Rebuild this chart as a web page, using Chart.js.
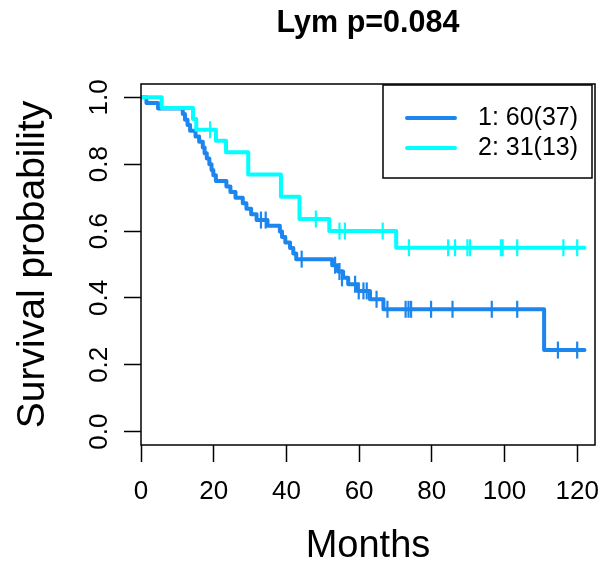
<!DOCTYPE html>
<html>
<head>
<meta charset="utf-8">
<script src="https://cdn.jsdelivr.net/npm/chart.js@4.4.1/dist/chart.umd.min.js"></script>
<style>
  html, body { margin: 0; padding: 0; background: #fff; }
  #wrap { width: 609px; height: 567px; }
</style>
</head>
<body>
<div id="wrap"><canvas id="kmChart" width="609" height="567"></canvas></div>
<script>
// Kaplan-Meier steps (month of each drop, survival after it)
const group1Times = [0, 1.5, 4.7, 11.5, 12.1, 12.8, 13.5, 15.0, 16.0, 17.0, 17.5, 18.1, 18.8, 19.4, 19.9, 20.6,
    23.5, 24.6, 26.0, 28.0, 29.0, 30.3, 31.8, 34.8, 38.2, 38.8, 39.7, 41.0, 41.9, 42.7,
    52.6, 54.2, 55.6, 57.0, 59.6, 63.0, 66.7, 110.9, 122];
const group1Surv = [1.0, 0.983, 0.967, 0.950, 0.933, 0.917, 0.900, 0.883, 0.867, 0.850, 0.833, 0.817, 0.800, 0.783, 0.767, 0.750,
    0.733, 0.717, 0.700, 0.683, 0.667, 0.650, 0.633, 0.616, 0.599, 0.582, 0.566, 0.549, 0.533, 0.516,
    0.498, 0.479, 0.460, 0.441, 0.421, 0.396, 0.366, 0.244, 0.244];
const group1CensorTimes = [33.0, 34.3, 44.2, 53.4, 54.6, 55.3, 58.9, 59.9, 61.2, 62.1, 64.8,
    67.8, 72.8, 73.6, 74.3, 79.8, 85.7, 96.5, 103.5, 114.7, 120.0];
const group1CensorSurv = [0.633, 0.633, 0.516, 0.498, 0.479, 0.460, 0.441, 0.421, 0.421, 0.421, 0.396,
    0.366, 0.366, 0.366, 0.366, 0.366, 0.366, 0.366, 0.366, 0.244, 0.244];

const group2Times = [0, 5.7, 14.3, 15.2, 20.6, 23.4, 29.5, 38.5, 43.6, 51.8, 70.2, 122];
const group2Surv = [1.0, 0.968, 0.935, 0.903, 0.870, 0.836, 0.769, 0.703, 0.636, 0.600, 0.550, 0.550];
const group2CensorTimes = [19.0, 48.1, 54.6, 56.1, 66.5, 73.7, 84.5, 86.4, 89.8, 90.5, 99.0, 99.5, 103.5, 116.2, 120.0];
const group2CensorSurv = [0.903, 0.636, 0.600, 0.600, 0.600, 0.550, 0.550, 0.550, 0.550, 0.550, 0.550, 0.550, 0.550, 0.550, 0.550];

const seriesLabels = ['1: 60(37)', '2: 31(13)'];
const seriesColors = ['#1C86EE', '#00FFFF'];
const xTicks = [0, 20, 40, 60, 80, 100, 120];
const yTicks = [0, 0.2, 0.4, 0.6, 0.8, 1.0];
const yTickLabels = ['0.0', '0.2', '0.4', '0.6', '0.8', '1.0'];

const FONT = '"Liberation Sans", Arial, Helvetica, sans-serif';

const toPoints = (xs, ys) => xs.map((x, i) => ({ x: x, y: ys[i] }));

function stepSet(times, surv, color, order) {
    return {
        type: 'line',
        data: toPoints(times, surv),
        borderColor: color,
        borderWidth: 4,
        stepped: true,
        pointRadius: 0,
        fill: false,
        borderCapStyle: 'round',
        borderJoinStyle: 'round',
        order: order
    };
}

function censorSet(times, surv, color, order) {
    return {
        type: 'scatter',
        data: toPoints(times, surv),
        borderColor: color,
        backgroundColor: color,
        borderWidth: 2.2,
        pointStyle: 'line',
        rotation: 90,
        pointRadius: 8.5,
        pointHoverRadius: 8.5,
        showLine: false,
        order: order
    };
}

// R style box round the plot region
const plotBox = {
    id: 'plotBox',
    afterDraw(chart) {
        const { ctx, chartArea: a } = chart;
        ctx.save();
        ctx.strokeStyle = '#000';
        ctx.lineWidth = 1.5;
        ctx.strokeRect(a.left, a.top, a.right - a.left, a.bottom - a.top);
        ctx.restore();
    }
};

// legend box in the top right corner
const legendBox = {
    id: 'legendBox',
    afterDraw(chart) {
        const { ctx, chartArea } = chart;
        const w = 209, h = 93;
        const left = chartArea.right - 3 - w, top = chartArea.top + 1;
        ctx.save();
        ctx.strokeStyle = '#000';
        ctx.lineWidth = 1.5;
        ctx.strokeRect(left, top, w, h);
        ctx.font = '25px ' + FONT;
        ctx.textBaseline = 'middle';
        seriesLabels.forEach((lab, i) => {
            const y = top + 33 + i * 30;
            ctx.strokeStyle = seriesColors[i];
            ctx.lineWidth = 4;
            ctx.lineCap = 'round';
            ctx.beginPath();
            ctx.moveTo(left + 24, y);
            ctx.lineTo(left + 72, y);
            ctx.stroke();
            ctx.fillStyle = '#000';
            ctx.fillText(lab, left + 95, y);
        });
        ctx.restore();
    }
};

const ctx = document.getElementById('kmChart').getContext('2d');
new Chart(ctx, {
    data: {
        datasets: [
            stepSet(group1Times, group1Surv, seriesColors[0], 3),
            stepSet(group2Times, group2Surv, seriesColors[1], 2),
            censorSet(group1CensorTimes, group1CensorSurv, seriesColors[0], 1),
            censorSet(group2CensorTimes, group2CensorSurv, seriesColors[1], 0)
        ]
    },
    options: {
        responsive: false,
        animation: false,
        events: [],
        layout: { padding: { left: 0, right: 14, top: 0, bottom: 0 } },
        plugins: {
            legend: { display: false },
            tooltip: { enabled: false },
            title: {
                display: true,
                text: 'Lym p=0.084',
                fullSize: false,
                color: '#000',
                font: { family: FONT, size: 30.5, weight: 'bold', lineHeight: 1.2 },
                padding: { top: 5, bottom: 42.4 }
            }
        },
        scales: {
            x: {
                type: 'linear',
                min: 0,
                max: 124.9,
                afterBuildTicks: s => { s.ticks = xTicks.map(v => ({ value: v })); },
                afterFit: s => { s.height = 122; s.paddingLeft = 0; s.paddingRight = 0; },
                border: { display: false },
                grid: { drawOnChartArea: false, drawTicks: true, tickLength: 17, tickColor: '#000', tickWidth: 1.5 },
                ticks: {
                    color: '#000',
                    font: { family: FONT, size: 26, lineHeight: 1.2 },
                    padding: 14.5,
                    maxRotation: 0,
                    autoSkip: false,
                    callback: v => String(v)
                },
                title: {
                    display: true,
                    text: 'Months',
                    color: '#000',
                    font: { family: FONT, size: 38, lineHeight: 1 },
                    padding: { top: 0, bottom: 1 }
                }
            },
            y: {
                type: 'linear',
                min: -0.04,
                max: 1.04,
                afterBuildTicks: s => { s.ticks = yTicks.map(v => ({ value: v })); },
                afterFit: s => { s.width = 141; s.paddingTop = 0; s.paddingBottom = 0; },
                border: { display: false },
                grid: { drawOnChartArea: false, drawTicks: true, tickLength: 17, tickColor: '#000', tickWidth: 1.5 },
                ticks: {
                    color: '#000',
                    font: { family: FONT, size: 26, lineHeight: 1.2 },
                    padding: 6.5,
                    minRotation: 90,
                    maxRotation: 90,
                    crossAlign: 'center',
                    autoSkip: false,
                    callback: (v) => {
                        const i = yTicks.findIndex(t => Math.abs(t - v) < 1e-9);
                        return i >= 0 ? yTickLabels[i] : '';
                    }
                },
                title: {
                    display: true,
                    text: 'Survival probability',
                    color: '#000',
                    font: { family: FONT, size: 39, lineHeight: 1 },
                    padding: { top: 13.5, bottom: 0 }
                }
            }
        }
    },
    plugins: [plotBox, legendBox]
});
</script>
</body>
</html>
